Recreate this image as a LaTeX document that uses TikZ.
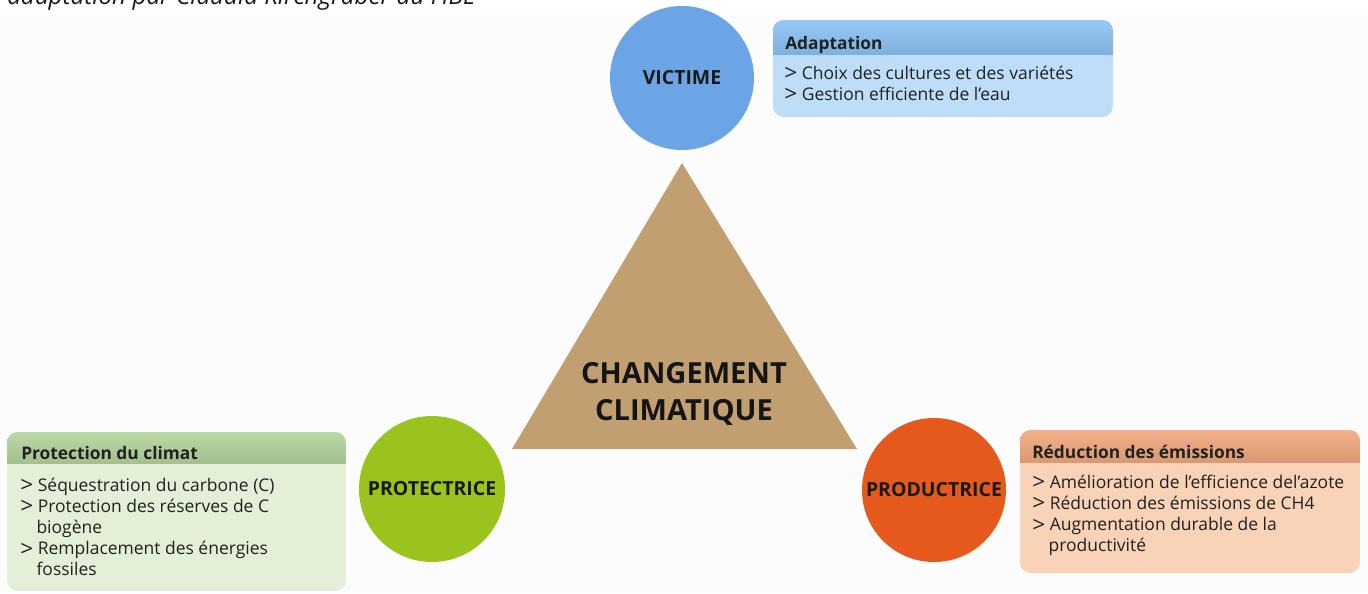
\documentclass[tikz,border=0pt]{standalone}
\usepackage{graphicx}
\usepackage{fontspec}
\setmainfont{Open Sans}
\begin{document}
\begin{tikzpicture}[x=0.75pt,y=-0.75pt,
  circ/.style={circle,inner sep=0pt,minimum size=#1*0.75pt},
  lbl/.style={font=\fontsize{14.6pt}{16pt}\selectfont\bfseries,text=black!90},
  hdrtxt/.style={anchor=base west,inner sep=0pt,font=\fontsize{13pt}{15pt}\selectfont\bfseries,text=black!87},
  bodytxt/.style={anchor=base west,inner sep=0pt,text=black!87,
    font=\fontsize{13.1pt}{15.8pt}\selectfont},
]
\definecolor{bg}{HTML}{FCFCFC}
\definecolor{vicC}{HTML}{6CA5E5}
\definecolor{vicH}{HTML}{8EC4F5}
\definecolor{vicB}{HTML}{BEDDF8}
\definecolor{triC}{HTML}{C19F71}
\definecolor{proC}{HTML}{9BC31E}
\definecolor{proH}{HTML}{B5D69E}
\definecolor{proB}{HTML}{E3EFD6}
\definecolor{prdC}{HTML}{E5591C}
\definecolor{prdH}{HTML}{F1AA7F}
\definecolor{prdB}{HTML}{F8D3B8}
\newcommand{\itm}{\makebox[13.2pt][l]{\raisebox{-1.4pt}{\scalebox{1.3}[1.25]{>}}}}
\newcommand{\cont}{\hspace*{12.2pt}}
% list whose reference point is the baseline of its first line
\newcommand{\toplist}[1]{\parbox[t]{330pt}{\raggedright #1}}

\useasboundingbox (0,0) rectangle (1368,593);
\fill[bg] (0,0) rectangle (1368,593);
\fill[white] (0,0) rectangle (1368,14);

\begin{scope}
  \clip (0,0) rectangle (1368,593);
  \node[anchor=base west,inner sep=0pt,font=\fontsize{18.2pt}{20pt}\selectfont\itshape,text=black!90]
    (credit) at (7,4) {adaptation par Claudia Kirchgraber du FiBL};
\end{scope}

% central triangle
\fill[triC] (682,163) -- (857,449) -- (512,449) -- cycle;
\node[font=\fontsize{21.8pt}{27.8pt}\selectfont\bfseries,align=center,text=black!92,inner sep=0pt]
  (cc) at (684,394) {CHANGEMENT\\CLIMATIQUE};

% the three roles
\node[circ=144,fill=vicC,lbl] (victime) at (682,78) {VICTIME};
\node[circ=146,fill=proC,lbl] (protectrice) at (432,489) {PROTECTRICE};
\node[circ=144,fill=prdC,lbl] (productrice) at (934,490) {PRODUCTRICE};

% Adaptation panel
\begin{scope}
  \path[clip,rounded corners=8] (773,20) rectangle (1113,117);
  \fill[vicB] (773,20) rectangle (1113,117);
  \shade[top color=vicH!92!white,bottom color=vicH!90!black] (773,20) rectangle (1113,54);
\end{scope}
\node[hdrtxt] (adapt) at (785,49) {Adaptation};
\node[bodytxt] (adaptlist) at (784,79)
  {\toplist{\itm Choix des cultures et des variétés\\
   \itm Gestion efficiente de l’eau}};

% Protection panel
\begin{scope}
  \path[clip,rounded corners=8] (7,432) rectangle (346,591);
  \fill[proB] (7,432) rectangle (346,591);
  \shade[top color=proH!92!white,bottom color=proH!90!black] (7,432) rectangle (346,463);
\end{scope}
\node[hdrtxt] (protect) at (21,459) {Protection du climat};
\node[bodytxt] (protectlist) at (20,491)
  {\toplist{\itm Séquestration du carbone (C)\\
   \itm Protection des réserves de C\\
   \cont biogène\\
   \itm Remplacement des énergies\\
   \cont fossiles}};

% Reduction panel
\begin{scope}
  \path[clip,rounded corners=8] (1020,430) rectangle (1360,573);
  \fill[prdB] (1020,430) rectangle (1360,573);
  \shade[top color=prdH!92!white,bottom color=prdH!90!black] (1020,430) rectangle (1360,462);
\end{scope}
\node[hdrtxt] (reduc) at (1032,458) {Réduction des émissions};
\node[bodytxt] (reduclist) at (1032,488)
  {\toplist{\itm Amélioration de l’efficience del’azote\\
   \itm Réduction des émissions de CH4\\
   \itm Augmentation durable de la\\
   \cont productivité}};
\end{tikzpicture}
\end{document}
